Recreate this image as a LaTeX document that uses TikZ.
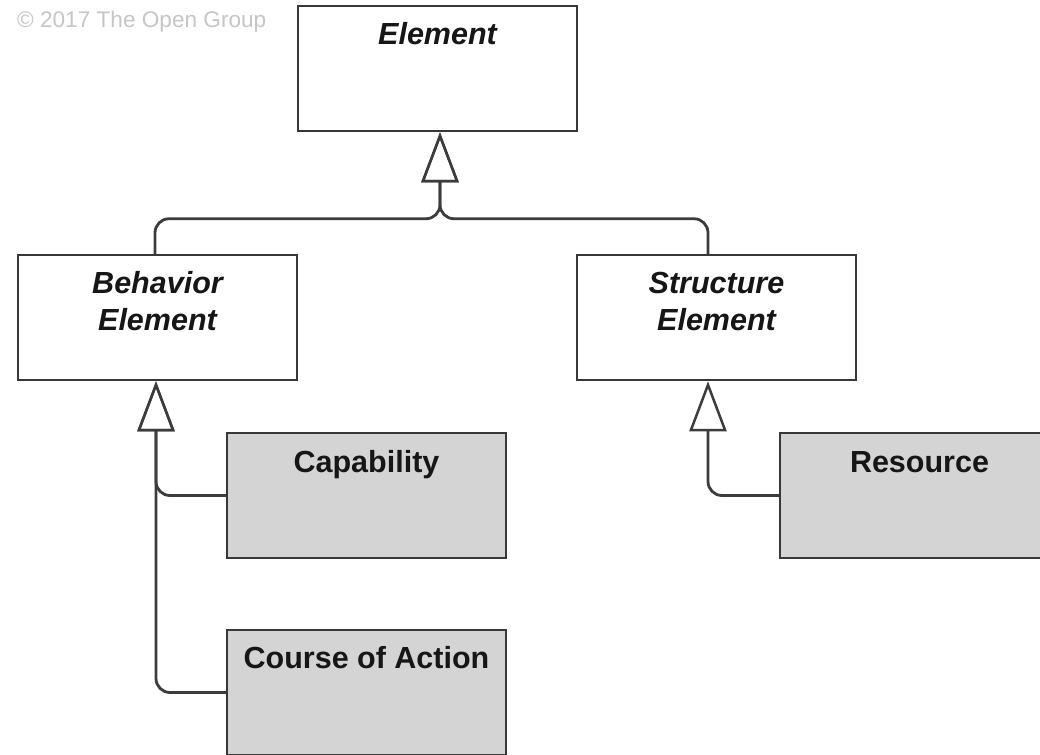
\documentclass[tikz,border=0pt]{standalone}
\usepackage{fontspec}
\setmainfont{Liberation Sans}
\usetikzlibrary{arrows.meta,calc}
\definecolor{boxline}{HTML}{383838}
\definecolor{linecol}{HTML}{3C3C3C}
\definecolor{boxfill}{HTML}{D4D4D4}
\definecolor{txt}{HTML}{161616}
\definecolor{copy}{HTML}{C6C6C6}
\begin{document}
\begin{tikzpicture}[x=1pt,y=-1pt,
  box/.style={draw=boxline, line width=2.5pt, minimum width=279pt, minimum height=125pt, inner sep=0pt, fill=white},
  greybox/.style={box, fill=boxfill},
  lbl/.style={anchor=base, text=txt, font=\fontsize{30.5}{37}\selectfont\bfseries, align=center, inner sep=0pt},
  ilbl/.style={lbl, font=\fontsize{30.5}{37}\selectfont\bfseries\itshape},
  conn/.style={draw=linecol, line width=2.8pt, rounded corners=14pt, -{Triangle[open, length=50pt, width=37pt, line width=2.5pt]}}
]
\useasboundingbox (0,0) rectangle (1040,754);
\clip (0,0) rectangle (1040,754);
\fill[white] (0,0) rectangle (1040,754);

\node[anchor=base west, text=copy, font=\fontsize{22.6}{27}\selectfont, inner sep=0pt] (copyr) at (17,28) {\textcopyright\ 2017 The Open Group};

\node[box] (elem) at (437.5,68.5) {};
\node[box] (beh) at (157.5,317.5) {};
\node[box] (str) at (716.5,317.5) {};
\node[greybox] (cap) at (366.5,495.5) {};
\node[greybox] (res) at (919.5,495.5) {};
\node[greybox] (coa) at (366.5,692.5) {};

\node[ilbl] (elemT) at ($(elem.north)+(0,40)$) {Element};
\node[ilbl] (behT) at ($(beh.north)+(0,77)$) {Behavior\\Element};
\node[ilbl] (strT) at ($(str.north)+(0,77)$) {Structure\\Element};
\node[lbl] (capT) at ($(cap.north)+(0,41)$) {Capability};
\node[lbl] (resT) at ($(res.north)+(0,41)$) {Resource};
\node[lbl] (coaT) at ($(coa.north)+(0,40)$) {Course of Action};

\coordinate (elemIn) at ($(elem.south)+(2.5,0)$);
\coordinate (behTop) at ($(beh.north)+(-2.5,0)$);
\coordinate (strTop) at ($(str.north)+(-8.5,0)$);
\coordinate (behIn) at ($(beh.south)+(-1.5,0)$);
\coordinate (strIn) at ($(str.south)+(-8.5,0)$);

\draw[conn] (behTop) -- ++(0,-35) -| (elemIn);
\draw[conn] (strTop) -- ++(0,-35) -| (elemIn);
\draw[conn] (cap.west) -| (behIn);
\draw[conn] (coa.west) -| (behIn);
\draw[conn] (res.west) -| (strIn);
\end{tikzpicture}
\end{document}
